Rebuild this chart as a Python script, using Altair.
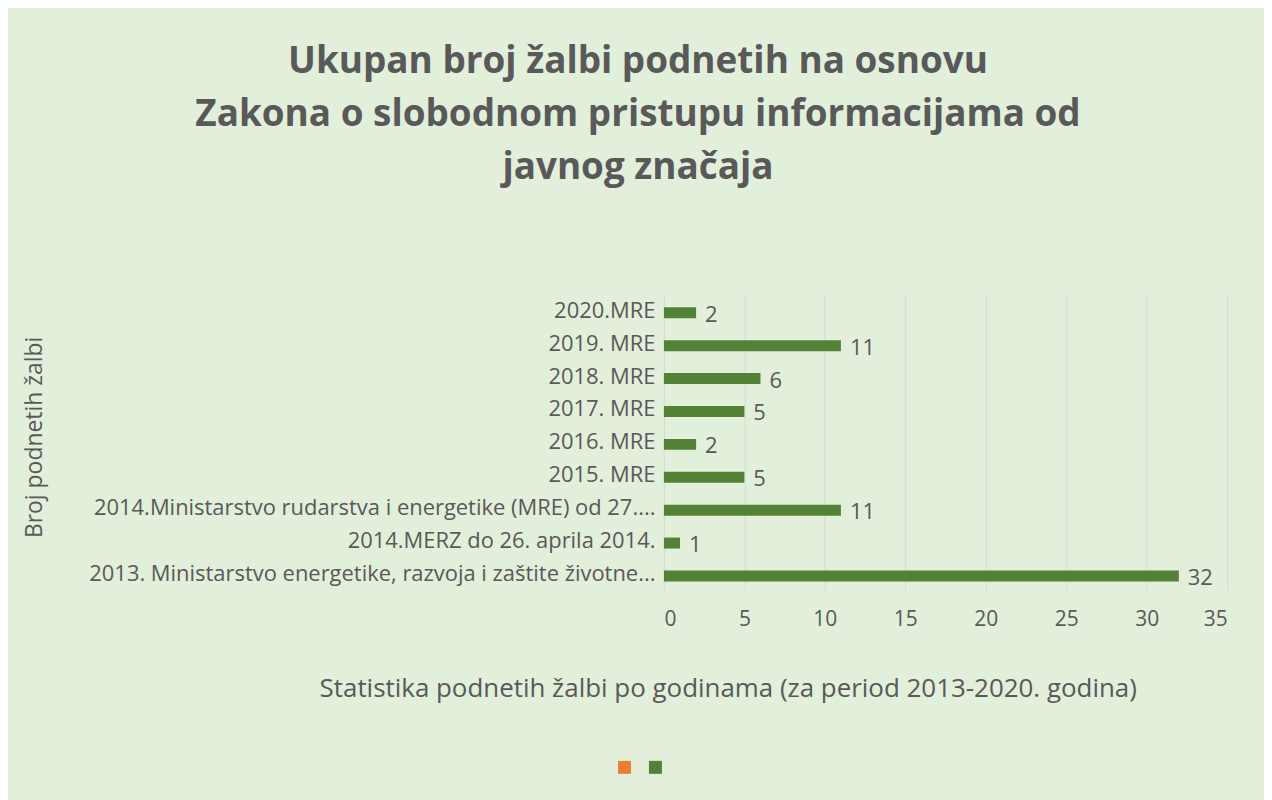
import altair as alt
import pandas as pd

categories = [
    "2020.MRE",
    "2019. MRE",
    "2018. MRE",
    "2017. MRE",
    "2016. MRE",
    "2015. MRE",
    "2014.Ministarstvo rudarstva i energetike (MRE) od 27....",
    "2014.MERZ do 26. aprila 2014.",
    "2013. Ministarstvo energetike, razvoja i zaštite životne...",
]
values = [2, 11, 6, 5, 2, 5, 11, 1, 32]
series_names = ["Serija 1", "Serija 2"]
series_colors = ["#ED7D31", "#538135"]
x_ticks = [0, 5, 10, 15, 20, 25, 30, 35]

title_lines = [
    "Ukupan broj žalbi podnetih na osnovu",
    "Zakona o slobodnom pristupu informacijama od",
    "javnog značaja",
]
x_title = "Statistika podnetih žalbi po godinama (za period 2013-2020. godina)"
y_title = "Broj podnetih žalbi"

df = pd.DataFrame({"cat": categories, "val": values, "series": series_names[1]})

FONT = "Open Sans"
GREY = "#595959"
W, H = 565, 297
PL = 658

y_enc = alt.Y(
    "cat:N",
    sort=categories,
    scale=alt.Scale(paddingInner=0.0, paddingOuter=0.0),
    axis=alt.Axis(
        title=y_title,
        titleFont=FONT,
        titleFontSize=23,
        titleFontWeight="normal",
        titleColor=GREY,
        titleAngle=270,
        titleX=27 - PL,
        titleY=143,
        titleAlign="center",
        titleBaseline="middle",
        labelFont=FONT,
        labelFontSize=22,
        labelColor=GREY,
        labelLimit=800,
        labelPadding=9,
        ticks=False,
        domain=False,
        grid=False,
    ),
)

x_enc = alt.X(
    "val:Q",
    scale=alt.Scale(domain=[0, 35], nice=False),
    axis=alt.Axis(
        values=x_ticks,
        title=x_title,
        titleFont=FONT,
        titleFontSize=26,
        titleFontWeight="normal",
        titleColor=GREY,
        titleX=730 - 8 - PL,
        titleY=98,
        titleAlign="center",
        titleBaseline="middle",
        labelFont=FONT,
        labelFontSize=21,
        labelColor=GREY,
        labelPadding=18,
        ticks=False,
        domain=False,
        grid=True,
        gridColor="#D9D9D9",
        gridWidth=1,
    ),
)

bars = alt.Chart(df).mark_bar(size=11, yOffset=2).encode(
    x=x_enc,
    y=y_enc,
    color=alt.Color(
        "series:N",
        scale=alt.Scale(domain=series_names, range=series_colors),
        legend=alt.Legend(
            title=None,
            orient="none",
            legendX=620 - 8 - PL,
            legendY=468,
            direction="horizontal",
            symbolType="square",
            symbolSize=169,
            symbolStrokeWidth=0,
            labelExpr="''",
            labelOffset=0,
            columnPadding=18,
        ),
    ),
)

labels = alt.Chart(df).mark_text(
    align="left", baseline="middle", dx=9, dy=4, font=FONT, fontSize=22, color=GREY
).encode(
    x=alt.X("val:Q"),
    y=alt.Y("cat:N", sort=categories),
    text=alt.Text("val:Q"),
)

chart = (
    alt.layer(bars, labels)
    .properties(
        width=W,
        height=H,
        background="#E2EFDA",
        padding={"left": PL, "top": 286, "right": 1260 - PL - W, "bottom": 209},
        autosize=alt.AutoSizeParams(type="none"),
        title=alt.Title(
            text=title_lines,
            font=FONT,
            fontSize=37,
            fontWeight="bold",
            color=GREY,
            anchor="middle",
            dx=632 - (PL + W / 2),
            offset=108,
            lineHeight=53,
        ),
    )
    .configure_view(stroke=None)
)

chart.save("out.html", embed_options={"renderer": "svg", "actions": False})
